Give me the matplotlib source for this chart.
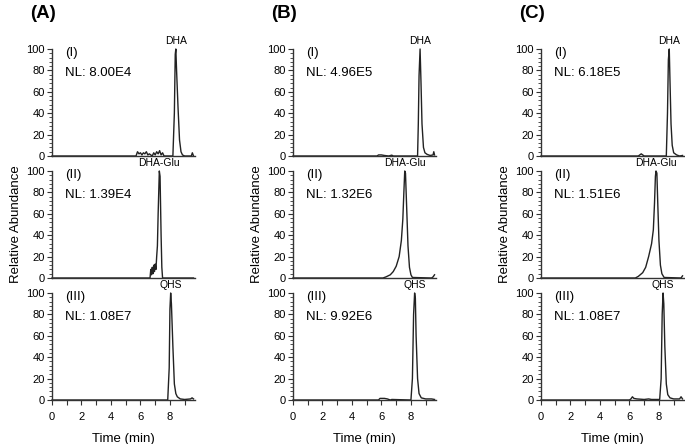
import matplotlib
matplotlib.use("Agg")
import matplotlib.pyplot as plt
from matplotlib.ticker import MultipleLocator

plt.rcParams["font.family"] = ["Liberation Sans", "DejaVu Sans"]

# chromatogram traces: (time in min, relative abundance)
a1_t = [0, 5.7, 5.8, 5.9, 6.0, 6.1, 6.2, 6.3, 6.4, 6.5, 6.6, 6.7, 6.8, 6.9, 7.0, 7.1, 7.2, 7.3, 7.4, 7.5, 7.6, 7.7,
        8.2, 8.3, 8.36, 8.4, 8.45, 8.55, 8.65, 8.75, 8.85, 9.0, 9.45, 9.52, 9.6]
a1_y = [0, 0, 4, 2, 3, 1, 3, 2, 4, 1, 2, 1, 0, 3, 1, 4, 2, 5, 1, 3, 0, 0,
        0, 40, 95, 100, 80, 45, 15, 4, 1, 0, 0, 3, 0]
a2_t = [0, 6.65, 6.7, 6.75, 6.8, 6.85, 6.9, 6.95, 7.0, 7.05, 7.1, 7.15, 7.2, 7.28, 7.33, 7.4, 7.45, 7.5, 9.6]
a2_y = [0, 0, 8, 3, 10, 4, 12, 6, 13, 8, 20, 30, 60, 100, 95, 40, 10, 0, 0]
a3_t = [0, 7.85, 7.95, 8.0, 8.05, 8.1, 8.2, 8.3, 8.4, 8.5, 8.7, 9.0, 9.4, 9.5, 9.6]
a3_y = [0, 0, 30, 85, 100, 90, 50, 15, 6, 3, 1, 0.5, 1, 2, 1]

b1_t = [0, 5.7, 5.8, 6.0, 6.2, 6.5, 6.7, 6.8, 8.45, 8.5, 8.55, 8.62, 8.68, 8.75, 8.85, 8.95, 9.1, 9.3, 9.5, 9.55, 9.6]
b1_y = [0, 0, 1, 1, 0.5, 0, 0.8, 0, 0, 30, 75, 100, 70, 30, 8, 3, 1.5, 0.5, 1, 4, 1]
b2_t = [0, 6.1, 6.3, 6.6, 6.8, 7.0, 7.2, 7.35, 7.45, 7.52, 7.58, 7.63, 7.7, 7.8, 7.9, 8.0, 8.1, 9.4, 9.5, 9.6]
b2_y = [0, 0, 1, 3, 6, 11, 20, 35, 55, 80, 100, 98, 70, 30, 10, 3, 0.5, 0, 1, 3]
b3_t = [0, 5.8, 5.9, 6.2, 6.4, 6.5, 6.6, 6.7, 8.0, 8.1, 8.18, 8.25, 8.3, 8.35, 8.45, 8.55, 8.7, 9.0, 9.4, 9.6]
b3_y = [0, 0, 1.5, 1.5, 1, 0.5, 0, 0.5, 0, 20, 80, 100, 95, 60, 20, 6, 2, 1, 1, 0.5]

c1_t = [0, 6.6, 6.7, 6.8, 6.9, 7.0, 8.5, 8.58, 8.64, 8.7, 8.75, 8.82, 8.9, 9.0, 9.2, 9.4, 9.6]
c1_y = [0, 0, 1, 2, 1, 0, 0, 40, 90, 100, 70, 30, 10, 3, 1, 0, 0.5]
c2_t = [0, 6.4, 6.6, 6.9, 7.1, 7.3, 7.5, 7.62, 7.7, 7.76, 7.8, 7.86, 7.92, 8.0, 8.1, 8.2, 8.35, 9.5, 9.6]
c2_y = [0, 0, 1.5, 5, 10, 20, 32, 45, 70, 95, 100, 98, 70, 35, 12, 4, 0.5, 0, 2]
c3_t = [0, 6.0, 6.1, 6.2, 6.3, 6.5, 7.0, 7.3, 7.5, 8.05, 8.15, 8.22, 8.28, 8.33, 8.4, 8.5, 8.6, 8.75, 9.0, 9.4, 9.5, 9.6]
c3_y = [0, 0, 1, 3, 1.5, 1, 0.5, 1, 0.5, 0.5, 20, 80, 100, 90, 50, 15, 5, 2, 1, 1, 3, 1]

panel_names = ["(A)", "(B)", "(C)"]
row_names = ["(I)", "(II)", "(III)"]
peak_names = ["DHA", "DHA-Glu", "QHS"]
nl_values = [["8.00E4", "1.39E4", "1.08E7"],
             ["4.96E5", "1.32E6", "9.92E6"],
             ["6.18E5", "1.51E6", "1.08E7"]]
traces = [[(a1_t, a1_y), (a2_t, a2_y), (a3_t, a3_y)],
          [(b1_t, b1_y), (b2_t, b2_y), (b3_t, b3_y)],
          [(c1_t, c1_y), (c2_t, c2_y), (c3_t, c3_y)]]

W, H = 685, 444
fig = plt.figure(figsize=(W / 100, H / 100), dpi=100)

col_left = [52, 293, 541]
col_width = 143
row_top = [49, 171, 293]
row_height = 107
grey = "#333333"

for c in range(3):
    for r in range(3):
        x0 = col_left[c] / W
        y0 = 1 - (row_top[r] + row_height) / H
        ax = fig.add_axes([x0, y0, col_width / W, row_height / H])
        t, y = traces[c][r]
        ax.plot(t, y, color="#222222", lw=1.0, clip_on=False)
        ax.set_xlim(0, 9.7)
        ax.set_ylim(0, 100)
        for s in ["top", "right"]:
            ax.spines[s].set_visible(False)
        for s in ["left", "bottom"]:
            ax.spines[s].set_color(grey)
            ax.spines[s].set_linewidth(1.0)
        ax.yaxis.set_major_locator(MultipleLocator(20))
        ax.yaxis.set_minor_locator(MultipleLocator(4))
        ax.tick_params(axis="y", which="major", length=3.5, width=0.8, labelsize=8,
                       color=grey, pad=1.5)
        ax.tick_params(axis="y", which="minor", length=2, width=0.6, color=grey)
        if r == 2:
            ax.xaxis.set_major_locator(MultipleLocator(2))
            ax.xaxis.set_minor_locator(MultipleLocator(1))
            ax.tick_params(axis="x", which="both", length=3.5, width=0.8, labelsize=8,
                           color=grey, pad=5)
            ax.set_xlabel("Time (min)", fontsize=9.5, labelpad=8)
        else:
            ax.set_xticks([])
        if r == 1:
            ax.set_ylabel("Relative Abundance", fontsize=9.5, labelpad=3)

        ax.text(0.9, 96, row_names[r], fontsize=9.5, va="center", ha="left")
        ax.text(0.9, 78, "NL: " + nl_values[c][r], fontsize=9.5, va="center", ha="left")
        imax = y.index(max(y))
        ax.annotate(peak_names[r], (t[imax], 100), xytext=(0, 2),
                    textcoords="offset points", ha="center", va="bottom", fontsize=7.5)

    fig.text((col_left[c] - 9) / W, 1 - 13 / H, panel_names[c], fontsize=13.5,
             fontweight="bold", ha="center", va="center")

fig.savefig("out.png", dpi=100)
